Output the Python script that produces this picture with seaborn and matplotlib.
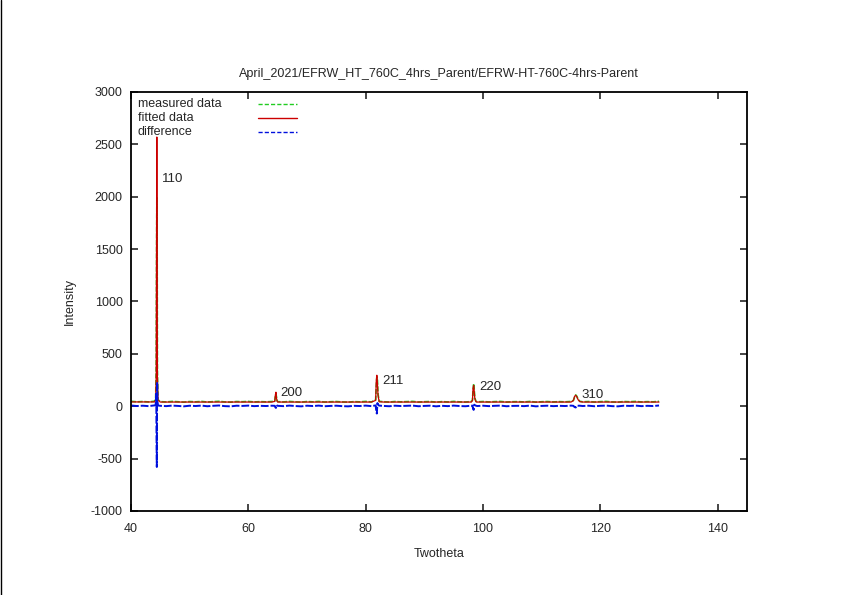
import matplotlib
matplotlib.use("Agg")
import matplotlib.pyplot as plt
from matplotlib.lines import Line2D
import seaborn as sns
import pandas as pd

# scan positions (2theta) shared by measured data and difference
two_theta = [40, 41, 42, 43, 44.0, 44.2, 44.3, 44.35, 44.4, 44.45, 44.5, 44.6,
             45, 46, 47, 48, 49, 50, 51, 52, 53, 54, 55, 56, 57, 58, 59, 60,
             61, 62, 63, 64, 64.5, 64.6, 64.7, 64.8, 64.9, 65,
             66, 67, 68, 69, 70, 71, 72, 73, 74, 75, 76, 77, 78, 79, 80,
             81, 81.7, 81.8, 81.9, 82.0, 82.1, 82.3,
             83, 84, 85, 86, 87, 88, 89, 90, 91, 92, 93, 94, 95, 96, 97,
             98, 98.2, 98.3, 98.4, 98.5, 98.6, 98.8,
             99, 100, 101, 102, 103, 104, 105, 106, 107, 108, 109, 110, 111,
             112, 113, 114, 115, 115.4, 115.6, 115.8, 116.0, 116.2, 116.5,
             117, 118, 119, 120, 121, 122, 123, 124, 125, 126, 127, 128, 129, 130]

measured = [47, 42, 45, 41, 48, 72, 420, 1270, 1990, 1730, 330, 62,
            44, 41, 46, 43, 39, 45, 42, 46, 40, 44, 47, 41, 39, 45, 43, 46,
            41, 44, 42, 45, 50, 95, 118, 88, 54, 44,
            41, 46, 42, 39, 45, 42, 46, 40, 43, 45, 41, 39, 44, 42, 46,
            41, 62, 190, 280, 250, 120, 47,
            43, 40, 45, 42, 44, 46, 40, 43, 45, 39, 44, 41, 46, 42, 40,
            45, 58, 150, 215, 160, 80, 46,
            42, 45, 41, 44, 46, 40, 43, 44, 41, 46, 39, 43, 45,
            41, 44, 42, 46, 55, 85, 108, 95, 66, 47,
            42, 45, 40, 44, 46, 41, 39, 45, 43, 46, 41, 44, 42, 47]

difference = [7, 2, 5, 1, 8, 12, 120, -280, -580, 230, 50, 7,
              4, 1, 6, 3, -1, 5, 2, 6, 0, 4, 7, 1, -1, 5, 3, 6,
              1, 4, 2, 5, 4, -10, -16, 12, 6, 4,
              1, 6, 2, -1, 5, 2, 6, 0, 3, 5, 1, -1, 4, 2, 6,
              1, 8, -45, -70, 30, 15, 6,
              3, 0, 5, 2, 4, 6, 0, 3, 5, -1, 4, 1, 6, 2, 0,
              5, 6, -20, -35, 15, 10, 5,
              2, 5, 1, 4, 6, 0, 3, 4, 1, 6, -1, 3, 5,
              1, 4, 2, 6, 4, -8, -12, 6, 5, 5,
              2, 5, 0, 4, 6, 1, -1, 5, 3, 6, 1, 4, 2, 7]

# fitted profile (smooth, own sampling)
fit_theta = [40, 44.0, 44.2, 44.3, 44.35, 44.4, 44.45, 44.5, 44.6, 45,
             55, 64, 64.5, 64.6, 64.7, 64.8, 64.9, 65,
             75, 81, 81.7, 81.8, 81.9, 82.0, 82.1, 82.3, 83,
             90, 98, 98.2, 98.3, 98.4, 98.5, 98.6, 98.8, 99,
             108, 115, 115.4, 115.6, 115.8, 116.0, 116.2, 116.5, 117,
             124, 130]
fitted = [41, 41, 62, 300, 1550, 2570, 1500, 282, 57, 40,
          40, 40, 46, 105, 134, 76, 48, 40,
          40, 40, 56, 235, 296, 220, 105, 43, 40,
          40, 40, 54, 170, 200, 145, 72, 43, 40,
          40, 40, 53, 93, 105, 89, 63, 44, 40,
          40, 40]

# reflection labels
hkl = ["110", "200", "211", "220", "310"]
hkl_x = [45.3, 65.5, 82.9, 99.3, 116.7]
hkl_y = [2167, 124, 239, 181, 105]

sns.set_style("ticks")
plt.rcParams['font.family'] = ['Liberation Sans', 'DejaVu Sans']
plt.rcParams['font.size'] = 9
plt.rcParams['axes.unicode_minus'] = False

meas_df = pd.DataFrame({"Twotheta": two_theta, "meas": measured, "diff": difference})
fit_df = pd.DataFrame({"Twotheta": fit_theta, "fit": fitted})

fig = plt.figure(figsize=(8.42, 5.95), dpi=100)
ax = fig.add_axes([0.1556, 0.1412, 0.7316, 0.7042])

green = "#22cc22"
red = "#cc0000"
blue = "#0010dd"

sns.lineplot(data=meas_df, x="Twotheta", y="meas", ax=ax, color=green,
             linewidth=1.2, linestyle=(0, (3, 1)))
sns.lineplot(data=fit_df, x="Twotheta", y="fit", ax=ax, color=red, linewidth=0.9)
sns.lineplot(data=meas_df, x="Twotheta", y="diff", ax=ax, color=blue,
             linewidth=1.4, linestyle=(0, (4, 1)))

for lab, lx, ly in zip(hkl, hkl_x, hkl_y):
    ax.text(lx, ly, lab, ha="left", va="center", fontsize=9.5)

ax.set_xlim(40, 145)
ax.set_ylim(-1000, 3000)
ax.set_xticks([40, 60, 80, 100, 120, 140])
ax.set_yticks(range(-1000, 3001, 500))
ax.tick_params(direction="in", length=5, width=1.2, top=True, right=True,
               labelsize=9)
ax.tick_params(axis="x", pad=9)
ax.tick_params(axis="y", pad=6)
for s in ax.spines.values():
    s.set_linewidth(1.3)
    s.set_color("black")
ax.set_xlabel("Twotheta", fontsize=9, labelpad=9)
ax.set_ylabel("Intensity", fontsize=9, labelpad=11)
ax.set_title("April_2021/EFRW_HT_760C_4hrs_Parent/EFRW-HT-760C-4hrs-Parent",
             fontsize=9, pad=11)

# gnuplot style key: text left, sample line right
key = [("measured data", green, (0, (3, 1.5))),
       ("fitted data", red, "-"),
       ("difference", blue, (0, (3, 1.5)))]
for i, (lab, c, ls) in enumerate(key):
    yk = 0.971 - i * 0.0335
    ax.text(0.011, yk, lab, transform=ax.transAxes, ha="left", va="center", fontsize=9)
    ax.add_line(Line2D([0.206, 0.270], [yk, yk], transform=ax.transAxes,
                       color=c, linewidth=1.0, linestyle=ls))

fig.add_artist(Line2D([0.0015, 0.0015], [0, 1], color="black", linewidth=1.0))

fig.savefig("out.png", dpi=100)
